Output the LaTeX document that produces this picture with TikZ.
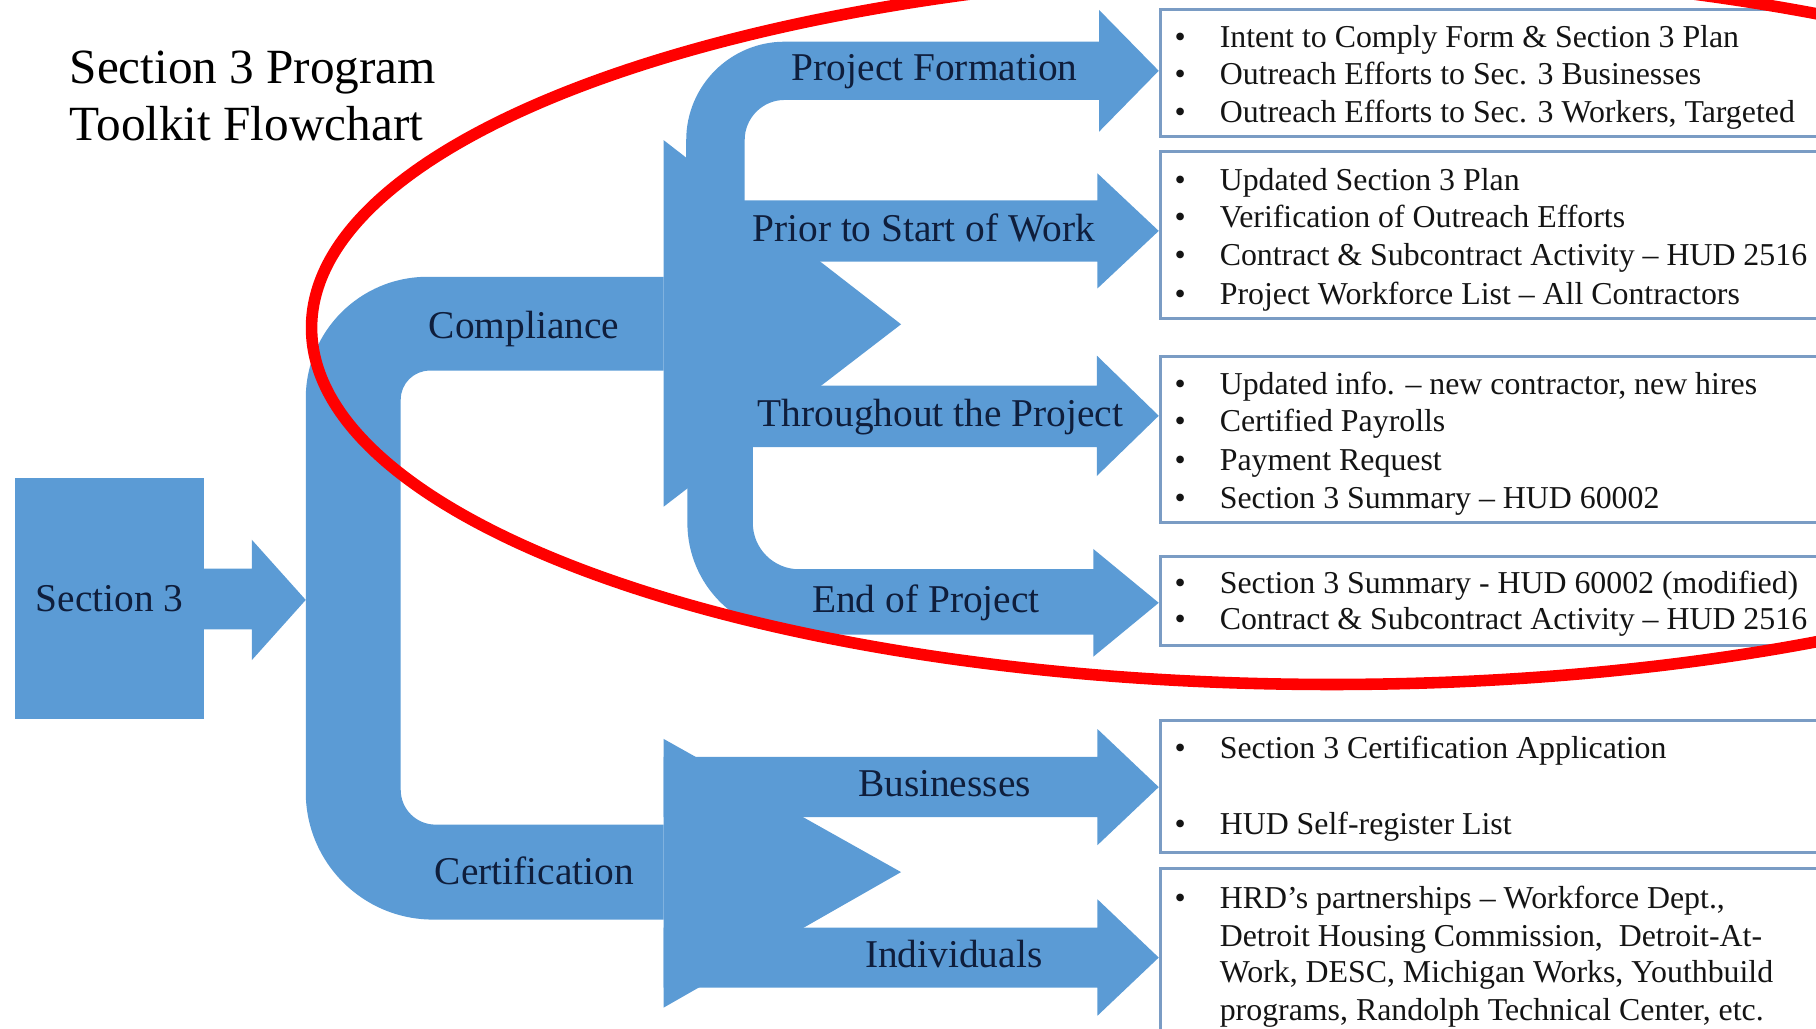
\documentclass[tikz,border=0pt]{standalone}
\usepackage{fontspec}
\setmainfont{Liberation Serif}
\definecolor{sblue}{HTML}{5B9BD5}
\definecolor{navy}{HTML}{0F1E3C}
\definecolor{bordc}{HTML}{7A9CC4}
\definecolor{txt}{HTML}{141414}
\newcommand\titlefont{\fontsize{42.5}{49}\selectfont}
\newcommand\lblfont{\fontsize{34}{40}\selectfont}
\newcommand\boxfont{\fontsize{27.5}{32.5}\selectfont}
\begin{document}
\begin{tikzpicture}[x=1pt,y=1pt,
  blk/.style={fill=sblue},
  lbl/.style={font=\lblfont, text=navy, inner sep=0pt, anchor=base},
  itm/.style={font=\boxfont, text=txt, inner sep=0pt, anchor=base west},
  bul/.style={font=\boxfont, text=txt, inner sep=0pt, anchor=base},
  infobox/.style={draw=bordc, line width=2.6pt},
  ttl/.style={font=\titlefont, text=black, inner sep=0pt, anchor=base west}]
\useasboundingbox (0,0) rectangle (1568,-888);
\clip (0,0) rectangle (1568,-888);

% title
\node[ttl] (title1) at (60,-72) {Section 3 Program};
\node[ttl] (title2) at (60,-121) {Toolkit Flowchart};

% Section 3 box and arrow
\node[blk, minimum width=163pt, minimum height=208pt, inner sep=0pt, font=\lblfont, text=navy] (sec3) at (94.5,-517) {Section 3};
\fill[blk] (176,-491) -- (217.4,-491) -- (217.4,-466) -- (264,-518) -- (217.4,-570) -- (217.4,-543.5) -- (176,-543.5) -- cycle;

% trunk: compliance + certification
\fill[blk] (573,-239) -- (369,-239) arc[start angle=90,end angle=180,radius=105pt]
  -- (264,-684) arc[start angle=180,end angle=270,radius=110pt]
  -- (573,-794) -- (573,-712) -- (376,-712) arc[start angle=270,end angle=180,radius=30pt]
  -- (346,-345) arc[start angle=180,end angle=90,radius=25pt] -- (573,-320) -- cycle;
\fill[blk] (573,-121) -- (778,-280) -- (573,-437.5) -- cycle;
\fill[blk] (573,-638) -- (778,-753) -- (573,-870) -- cycle;

% compliance branches
\fill[blk] (592.5,-240) -- (592.5,-121) arc[start angle=180,end angle=90,radius=85pt]
  -- (949,-36) -- (949,-8.6) -- (1000.5,-61.15) -- (949,-113.7) -- (949,-86.3)
  -- (677.5,-86.3) arc[start angle=90,end angle=180,radius=34.5pt] -- (643,-240) -- cycle;
\fill[blk] (630,-173) -- (947.6,-173) -- (947.6,-149.7) -- (1000.5,-199.4) -- (947.6,-249) -- (947.6,-226) -- (630,-226) -- cycle;
\fill[blk] (630,-333) -- (947,-333) -- (947,-307) -- (1000.5,-359) -- (947,-411) -- (947,-386) -- (630,-386) -- cycle;
\fill[blk] (593.5,-370) -- (593.5,-451.5) arc[start angle=180,end angle=270,radius=96.5pt]
  -- (944,-548) -- (944,-567) -- (1000.5,-520.5) -- (944,-474) -- (944,-491.5)
  -- (690,-491.5) arc[start angle=270,end angle=180,radius=40pt] -- (650,-370) -- cycle;

% certification branches
\fill[blk] (573,-653.5) -- (947.6,-653.5) -- (947.6,-629.5) -- (1000.5,-679.6) -- (947.6,-729.7) -- (947.6,-705.5) -- (573,-705.5) -- cycle;
\fill[blk] (573,-801) -- (947.6,-801) -- (947.6,-776.5) -- (1000.5,-826.8) -- (947.6,-877) -- (947.6,-852.7) -- (573,-852.7) -- cycle;

% labels
\node[lbl] (comp) at (452.5,-292) {Compliance};
\node[lbl] (cert) at (461.5,-764) {Certification};
\node[lbl] (pf) at (807,-69.7) {Project Formation};
\node[lbl] (prior) at (797.5,-208.7) {Prior to Start of Work};
\node[lbl] (thru) at (812,-368) {Throughout the Project};
\node[lbl] (endp) at (799.5,-529) {End of Project};
\node[lbl] (bus) at (815.5,-688) {Businesses};
\node[lbl] (ind) at (823.5,-835.5) {Individuals};

% info boxes
\draw[infobox] (1002,-8) rectangle (1620,-118);
\draw[infobox] (1002,-131) rectangle (1620,-275);
\draw[infobox] (1002,-307.4) rectangle (1620,-451);
\draw[infobox] (1002,-480.4) rectangle (1620,-557.3);
\draw[infobox] (1002,-622.5) rectangle (1620,-736);
\draw[infobox] (1002,-750) rectangle (1620,-920);

% box 1
\node[bul] (b1a) at (1019,-41.2) {•};
\node[itm] (t1a) at (1053,-41.2) {Intent to Comply Form \& Section 3 Plan};
\node[bul] (b1b) at (1019,-72.8) {•};
\node[itm] (t1b) at (1053,-72.8) {Outreach Efforts to Sec. 3 Businesses};
\node[bul] (b1c) at (1019,-105.9) {•};
\node[itm] (t1c) at (1053,-105.9) {Outreach Efforts to Sec. 3 Workers, Targeted};
% box 2
\node[bul] (b2a) at (1019,-164.9) {•};
\node[itm] (t2a) at (1053,-164.9) {Updated Section 3 Plan};
\node[bul] (b2b) at (1019,-196.5) {•};
\node[itm] (t2b) at (1053,-196.5) {Verification of Outreach Efforts};
\node[bul] (b2c) at (1019,-229.5) {•};
\node[itm] (t2c) at (1053,-229.5) {Contract \& Subcontract Activity – HUD 2516};
\node[bul] (b2d) at (1019,-262.8) {•};
\node[itm] (t2d) at (1053,-262.8) {Project Workforce List – All Contractors};
% box 3
\node[bul] (b3a) at (1019,-340.5) {•};
\node[itm] (t3a) at (1053,-340.5) {Updated info. – new contractor, new hires};
\node[bul] (b3b) at (1019,-372.2) {•};
\node[itm] (t3b) at (1053,-372.2) {Certified Payrolls};
\node[bul] (b3c) at (1019,-406.2) {•};
\node[itm] (t3c) at (1053,-406.2) {Payment Request};
\node[bul] (b3d) at (1019,-439.1) {•};
\node[itm] (t3d) at (1053,-439.1) {Section 3 Summary – HUD 60002};
% box 4
\node[bul] (b4a) at (1019,-512.5) {•};
\node[itm] (t4a) at (1053,-512.5) {Section 3 Summary - HUD 60002 (modified)};
\node[bul] (b4b) at (1019,-543.5) {•};
\node[itm] (t4b) at (1053,-543.5) {Contract \& Subcontract Activity – HUD 2516};
% box 5
\node[bul] (b5a) at (1019,-655.3) {•};
\node[itm] (t5a) at (1053,-655.3) {Section 3 Certification Application};
\node[bul] (b5b) at (1019,-720.1) {•};
\node[itm] (t5b) at (1053,-720.1) {HUD Self-register List};
% box 6
\node[bul] (b6a) at (1019,-784.3) {•};
\node[itm] (t6a) at (1053,-784.3) {HRD’s partnerships – Workforce Dept.,};
\node[itm] (t6b) at (1053,-817.2) {Detroit Housing Commission,\ \ Detroit-At-};
\node[itm] (t6c) at (1053,-848.4) {Work, DESC, Michigan Works, Youthbuild};
\node[itm] (t6d) at (1053,-881.3) {programs, Randolph Technical Center, etc.};

% red ellipse
\draw[red, line width=10pt] (1150,-283) ellipse[x radius=881pt, y radius=308pt];
\end{tikzpicture}
\end{document}
